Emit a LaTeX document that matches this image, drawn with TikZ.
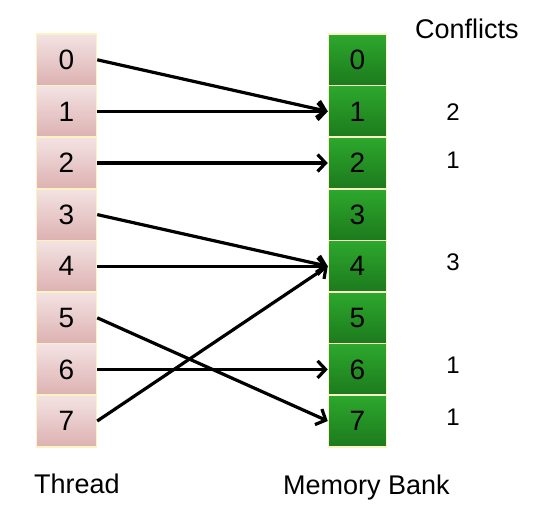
\documentclass[tikz,border=0pt]{standalone}
\usepackage{fontspec}
\setmainfont{Liberation Sans}
\usetikzlibrary{arrows.meta}
\definecolor{pinktop}{HTML}{F4E3E3}
\definecolor{pinkbot}{HTML}{DDB1B1}
\definecolor{cellborder}{HTML}{FBF3C4}
\definecolor{greentop}{HTML}{2DA82D}
\definecolor{greenbot}{HTML}{1C7A1C}
\tikzset{
  threadcell/.style={draw=cellborder, line width=1.5pt, top color=pinktop, bottom color=pinkbot,
    minimum width=60pt, minimum height=51.6pt, inner sep=0pt, font=\fontsize{28}{30}\selectfont},
  bankcell/.style={draw=cellborder, line width=1.5pt, top color=greentop, bottom color=greenbot,
    minimum width=58pt, minimum height=51.6pt, inner sep=0pt, font=\fontsize{28}{30}\selectfont},
  conn/.style={line width=3.2pt, -{Straight Barb[length=8pt,width=17pt,line width=3.2pt]}},
  lbl/.style={font=\fontsize{27}{29}\selectfont, inner sep=0pt},
  cnt/.style={font=\fontsize{24}{26}\selectfont, inner sep=0pt, anchor=base}
}
\begin{document}
\begin{tikzpicture}[x=1pt,y=-1pt]
\useasboundingbox (0,0) rectangle (560,528);
\foreach \i in {0,...,7} {
  \node[threadcell] (t\i) at (66.5, 34+51.6*\i+25.8) {\i};
  \node[bankcell] (m\i) at (357.5, 34+51.6*\i+25.8) {\i};
}
\draw[conn] (t0.east) -- (m1.west);
\draw[conn] (t1.east) -- (m1.west);
\draw[conn] (t2.east) -- (m2.west);
\draw[conn] (t3.east) -- (m4.west);
\draw[conn] (t4.east) -- (m4.west);
\draw[conn] (t5.east) -- (m7.west);
\draw[conn] (t6.east) -- (m6.west);
\draw[conn] (t7.east) -- (m4.west);
\node[lbl, anchor=base west] (conf) at (415,38) {Conflicts};
\node[cnt] (c1) at (453,120) {2};
\node[cnt] (c2) at (453,168) {1};
\node[cnt] (c4) at (453,270) {3};
\node[cnt] (c6) at (453,373) {1};
\node[cnt] (c7) at (453,425) {1};
\node[lbl, anchor=base west] (thr) at (34,493) {Thread};
\node[lbl, anchor=base west] (mb) at (283,494) {Memory Bank};
\end{tikzpicture}
\end{document}
